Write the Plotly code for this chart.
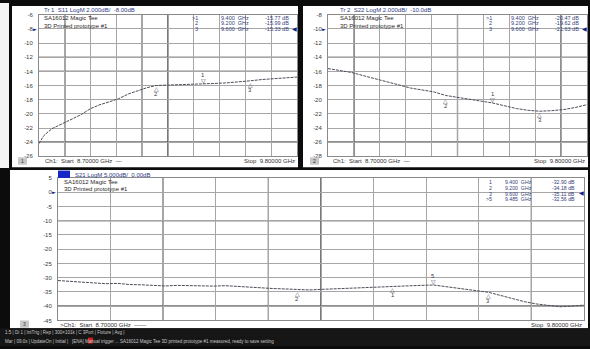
import plotly.graph_objects as go

# ---------------- data ----------------
start_ghz = 8.7
stop_ghz = 9.8

freq_s11 = [8.70, 8.71, 8.72, 8.74, 8.76, 8.78, 8.80, 8.82, 8.85, 8.88, 8.92, 8.96, 9.00, 9.04,
            9.08, 9.12, 9.16, 9.20, 9.25, 9.30, 9.35, 9.40, 9.45, 9.50, 9.55, 9.60, 9.65, 9.70,
            9.75, 9.80]
s11_db = [-24.2, -23.6, -23.1, -22.5, -22.0, -21.7, -21.4, -21.1, -20.65, -20.1, -19.25, -18.7,
          -18.3, -17.85, -17.2, -16.7, -16.3, -15.99, -15.95, -15.9, -15.88, -15.77, -15.7, -15.62,
          -15.5, -15.33, -15.15, -15.0, -14.9, -14.8]

freq_s22 = [8.70, 8.75, 8.80, 8.85, 8.90, 8.95, 9.00, 9.05, 9.10, 9.15, 9.20, 9.25, 9.30, 9.35,
            9.40, 9.45, 9.50, 9.55, 9.60, 9.65, 9.70, 9.75, 9.80]
s22_db = [-15.6, -15.9, -16.15, -16.6, -17.0, -17.45, -17.9, -18.35, -18.6, -18.9, -19.4, -19.7,
          -19.9, -20.2, -20.47, -20.9, -21.25, -21.5, -21.63, -21.55, -21.4, -21.1, -20.7]

freq_s21 = [8.700, 8.725, 8.750, 8.775, 8.800, 8.825, 8.850, 8.875, 8.900, 8.925, 8.950, 8.975,
            9.000, 9.025, 9.050, 9.075, 9.100, 9.125, 9.150, 9.175, 9.200, 9.225, 9.250, 9.275,
            9.300, 9.325, 9.350, 9.375, 9.400, 9.425, 9.450, 9.485, 9.500, 9.525, 9.550, 9.575,
            9.600, 9.625, 9.650, 9.675, 9.700, 9.725, 9.750, 9.775, 9.800]
s21_db = [-31.0, -31.3, -31.5, -31.8, -32.1, -32.0, -32.4, -32.5, -32.7, -32.9, -32.7, -32.85,
          -32.8, -32.95, -32.8, -33.1, -33.3, -33.5, -33.8, -33.95, -34.18, -34.3, -34.1, -33.9,
          -33.7, -33.5, -33.3, -33.1, -32.90, -32.95, -32.75, -32.56, -32.9, -33.6, -34.1, -34.6,
          -35.11, -36.2, -37.3, -38.4, -39.2, -39.8, -40.2, -40.0, -39.6]

marker_ids_12 = ["1", "2", "3"]
marker_freq_12 = [9.400, 9.200, 9.600]
s11_marker_db = [-15.77, -15.99, -15.33]
s22_marker_db = [-20.47, -19.62, -21.63]
marker_ids_3 = ["1", "2", "3", "5"]
marker_freq_3 = [9.400, 9.200, 9.600, 9.485]
s21_marker_db = [-32.90, -34.18, -35.11, -32.56]

s11_ticks = [-6, -8, -10, -12, -14, -16, -18, -20, -22, -24, -26]
s22_ticks = [-8, -10, -12, -14, -16, -18, -20, -22, -24, -26, -28]
s21_ticks = [5, 0, -5, -10, -15, -20, -25, -30, -35, -40, -45]

# ---------------- helpers ----------------
W, H = 590, 349
def px(x):
    return x / W
def py(y):
    return 1 - y / H

TXT = "Liberation Sans"
BLUE = "#2c3a86"
TRACE = "#4c4c58"
GRID = "#a6a6a6"
DARK = "#202020"

fig = go.Figure()

panels = [
    dict(ax="", freq=freq_s11, val=s11_db, ticks=s11_ticks, ref=-8, mfreq=marker_freq_12,
         mval=s11_marker_db, mid=marker_ids_12, active="1",
         dom_x=(39, 297), dom_y=(12, 156),
         dark_x=[8.81, 9.14, 9.25], dark_y=[-12, -14, -24]),
    dict(ax="2", freq=freq_s22, val=s22_db, ticks=s22_ticks, ref=-10, mfreq=marker_freq_12,
         mval=s22_marker_db, mid=marker_ids_12, active="1",
         dom_x=(328, 587), dom_y=(12, 156),
         dark_x=[8.81, 9.25, 9.69], dark_y=[-14, -26]),
    dict(ax="3", freq=freq_s21, val=s21_db, ticks=s21_ticks, ref=0, mfreq=marker_freq_3,
         mval=s21_marker_db, mid=marker_ids_3, active="5",
         dom_x=(58, 584), dom_y=(178, 323),
         dark_x=[8.92, 9.14, 9.25, 9.69], dark_y=[-10, -40]),
]

shapes = []
annotations = []

# panel backgrounds (screen layout)
def rect(x0, y0, x1, y1, color, layer="below"):
    shapes.append(dict(type="rect", xref="paper", yref="paper", x0=px(x0), x1=px(x1),
                       y0=py(y1), y1=py(y0), fillcolor=color, line=dict(width=0), layer=layer))

rect(0, 0, 9, 168, "#f4f4f4")
rect(12, 3, 298, 167, "#ffffff")
rect(303, 3, 588, 167, "#ffffff")
rect(10, 170, 588, 331, "#ffffff")
rect(0, 331, 590, 349, "#161616")

def text(x, y, s, size=6, color="#2a2a2a", xanchor="left", family=TXT):
    annotations.append(dict(x=px(x), y=py(y), xref="paper", yref="paper", text=s, showarrow=False,
                            xanchor=xanchor, yanchor="middle", font=dict(size=size, color=color, family=family)))

for p in panels:
    a = p["ax"]
    xa = "xaxis" + a
    ya = "yaxis" + a
    xr = "x" + a
    yr = "y" + a
    fig.add_trace(go.Scatter(x=p["freq"], y=p["val"], mode="lines", xaxis=xr, yaxis=yr,
                             line=dict(color=TRACE, width=1, dash="3px,1px"), showlegend=False,
                             hoverinfo="skip"))
    fig.layout[xa] = dict(domain=[px(p["dom_x"][0]), px(p["dom_x"][1])], anchor=yr,
                          range=[start_ghz, stop_ghz], tick0=start_ghz, dtick=0.11,
                          showgrid=True, gridcolor=GRID, gridwidth=0.8, showticklabels=False,
                          ticks="", zeroline=False, showline=True, linecolor="#8a8a8a",
                          linewidth=1, mirror=True, fixedrange=True)
    fig.layout[ya] = dict(domain=[py(p["dom_y"][1]), py(p["dom_y"][0])], anchor=xr,
                          range=[p["ticks"][-1], p["ticks"][0]], tickvals=p["ticks"],
                          ticktext=[str(t) for t in p["ticks"]], showgrid=True, gridcolor=GRID,
                          gridwidth=0.8, zeroline=False, showline=True, linecolor="#8a8a8a",
                          linewidth=1, mirror=True, ticks="", ticklabelstandoff=4,
                          tickfont=dict(size=6, color="#3a3a3a", family=TXT), fixedrange=True)
    # darker grid lines (aliasing look of the screenshot)
    for dx in p["dark_x"]:
        shapes.append(dict(type="line", xref=xr, yref=yr + " domain", x0=dx, x1=dx, y0=0, y1=1,
                           line=dict(color=DARK, width=1.2), layer="below"))
    for dy in p["dark_y"]:
        shapes.append(dict(type="line", xref=xr + " domain", yref=yr, x0=0, x1=1, y0=dy, y1=dy,
                           line=dict(color=DARK, width=1.2), layer="below"))
    # reference level arrows
    annotations.append(dict(x=start_ghz, y=p["ref"], xref=xr, yref=yr, text="►", showarrow=False,
                            xanchor="right", yanchor="middle", xshift=0,
                            font=dict(size=5, color="#10208a", family="DejaVu Sans")))
    annotations.append(dict(x=stop_ghz, y=p["ref"], xref=xr, yref=yr, text="◀", showarrow=False,
                            xanchor="right", yanchor="middle", xshift=2,
                            font=dict(size=6, color="#10208a", family="DejaVu Sans")))
    # marker tags
    for f, v, m in zip(p["mfreq"], p["mval"], p["mid"]):
        if m == p["active"]:
            annotations.append(dict(x=f, y=v, xref=xr, yref=yr, text="▽", showarrow=False,
                                    yanchor="bottom", yshift=-2,
                                    font=dict(size=6, color="#404048", family="DejaVu Sans")))
            annotations.append(dict(x=f, y=v, xref=xr, yref=yr, text=m, showarrow=False,
                                    yanchor="bottom", yshift=4,
                                    font=dict(size=6, color="#404048", family=TXT)))
        else:
            annotations.append(dict(x=f, y=v, xref=xr, yref=yr, text="△", showarrow=False,
                                    yanchor="top", yshift=2,
                                    font=dict(size=6, color="#404048", family="DejaVu Sans")))
            annotations.append(dict(x=f, y=v, xref=xr, yref=yr, text=m, showarrow=False,
                                    yanchor="top", yshift=-4,
                                    font=dict(size=6, color="#404048", family=TXT)))

# headers
text(42, 7, "Tr 1  S11 LogM 2.000dB/  -8.00dB", 6, BLUE)
text(338, 7, "Tr 2  S22 LogM 2.000dB/  -10.0dB", 6, BLUE)
rect(58, 170.5, 70, 178, "#1428c8", layer="above")
text(73, 174.5, "S21 LogM 5.000dB/  0.00dB", 6, BLUE)

# DUT labels
for x0, y0, dy in [(42, 15, 8), (338, 15, 8), (62, 182.5, 6.5)]:
    text(x0, y0, "SA16012 Magic Tee", 6, "#2a2a2a")
    text(x0, y0 + dy, "3D Printed prototype #1", 6, "#2a2a2a")

# marker readouts
def readout(ids, freqs, vals, active, c1, c2, c3, rows, size=5.5):
    for i, (m, f, v) in enumerate(zip(ids, freqs, vals)):
        y = rows[i]
        text(c1, y, (">" if m == active else "") + m, size, "#34407a", "right")
        text(c2, y, f"{f:.3f}  GHz", size, "#34407a", "left")
        text(c3, y, f"{v:.2f} dB", size, "#34407a", "right")

readout(marker_ids_12, marker_freq_12, s11_marker_db, "1", 200, 219, 291, [15, 20.5, 26])
readout(marker_ids_12, marker_freq_12, s22_marker_db, "1", 494, 509, 581, [15, 20.5, 26])
readout(marker_ids_3, marker_freq_3, s21_marker_db, "5", 494, 503, 577, [182, 188, 194, 199.5], 5.2)

# footers
for bx, by, lab in [(18, 157, "1"), (310, 157, "2"), (20, 323, "3")]:
    rect(bx, by, bx + 9, by + 7.5, "#c8c8c8", layer="above")
    text(bx + 4.5, by + 3.9, lab, 5, "#333", "center")
text(43, 161, "Ch1:  Start  8.70000 GHz  —", 6, "#333")
text(297, 161, "Stop  9.80000 GHz", 6, "#333", "right")
text(331, 161, "Ch1:  Start  8.70000 GHz  —", 6, "#333")
text(587, 161, "Stop  9.80000 GHz", 6, "#333", "right")
text(58, 327.5, ">Ch1:  Start  8.70000 GHz  ——", 6, "#333")
text(584, 327.5, "Stop  9.80000 GHz", 6, "#333", "right")

# status bar
text(3, 335, "1:5 | Di 1 | IntTrig | Rep | 300×101k | C 3Port | Fixture | Avg |", 4.5, "#c8c8c8")
text(3, 344, "Mar | 09:0x | UpdateOn | Initial |   [ENA] Manual trigger ... SA16012 Magic Tee 3D printed prototype #1 measured, ready to save setting", 4.5, "#c8c8c8")
rect(88, 340.5, 93, 346.5, "#d02020", layer="above")

fig.update_layout(width=W, height=H, autosize=False, margin=dict(l=0, r=0, t=0, b=0),
                  paper_bgcolor="#0c0c0c", plot_bgcolor="#ffffff", showlegend=False,
                  shapes=shapes, annotations=annotations,
                  font=dict(family=TXT, size=6, color="#333"))

fig.write_html("out.html", config={"displayModeBar": False},
               post_script="document.body.style.margin='0';document.body.style.overflow='hidden';")
